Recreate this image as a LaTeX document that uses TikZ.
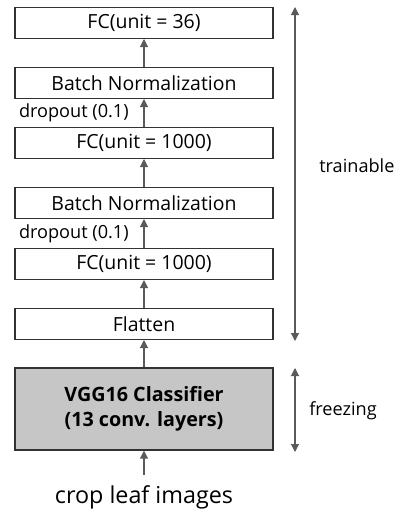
\documentclass[tikz,border=0pt]{standalone}
\usepackage{fontspec}
\setmainfont{Open Sans}
\usepackage{xcolor}
\usetikzlibrary{arrows.meta, positioning}

\definecolor{frozen}{RGB}{198,198,198}
\definecolor{edge}{RGB}{50,50,50}
\definecolor{shaft}{RGB}{90,90,90}

\begin{document}
\begin{tikzpicture}[
		x=0.75pt, y=-0.75pt,
		layer/.style={draw=edge, line width=1pt, fill=white, minimum width=193.5pt,
			minimum height=23pt, inner sep=0pt, font=\fontsize{14.6}{17}\selectfont},
		base/.style={layer, fill=frozen, minimum height=61.5pt,
			font=\fontsize{14.8}{18.5}\selectfont\bfseries, align=center},
		arr/.style={draw=shaft, line width=0.8pt, -{Triangle[width=6pt,length=6pt]}, color=shaft},
		span/.style={arr, {Triangle[width=6pt,length=6pt]}-{Triangle[width=6pt,length=6pt]}},
		note/.style={font=\fontsize{13.6}{16}\selectfont, inner sep=0pt}
		]
		\useasboundingbox (0,0) rectangle (399,511);
		% stacked dense head, top to bottom
		\foreach \n/\y/\lab in {out/23/{FC(unit = 36)}, bnb/83/Batch Normalization,
			fcb/143/{FC(unit = 1000)}, bna/203/Batch Normalization,
			fca/264/{FC(unit = 1000)}, flat/324/Flatten}{
			\node[layer] (\n) at (144,\y) {\lab};
		}
		\node[base] (vgg) at (144,409) {VGG16 Classifier\\(13 conv. layers)};
		\node[font=\fontsize{17.5}{21}\selectfont, inner sep=0pt] (img) at (144,497) {crop leaf images};
		\coordinate[below=18pt of vgg.south] (in);

		% data flow
		\draw[arr] (in) -- (vgg);
		\foreach \a/\b in {vgg/flat, flat/fca, fca/bna, bna/fcb, fcb/bnb, bnb/out}{
			\draw[arr] (\a) -- (\b);
		}
		\node[note, anchor=east] (dropa) at (129,234) {dropout (0.1)};
		\node[note, anchor=east] (dropb) at (129,113) {dropout (0.1)};

		% which part is trained
		\coordinate (tt) at (295,7);
		\coordinate (tb) at (295,341);
		\coordinate (ft) at (295,368);
		\coordinate (fb) at (295,452);
		\draw[span] (tb) -- (tt);
		\draw[span] (fb) -- (ft);
		\node[note, anchor=west] (train) at (319,166) {trainable};
		\node[note, anchor=west] (freeze) at (309,411) {freezing};
\end{tikzpicture}
\end{document}
